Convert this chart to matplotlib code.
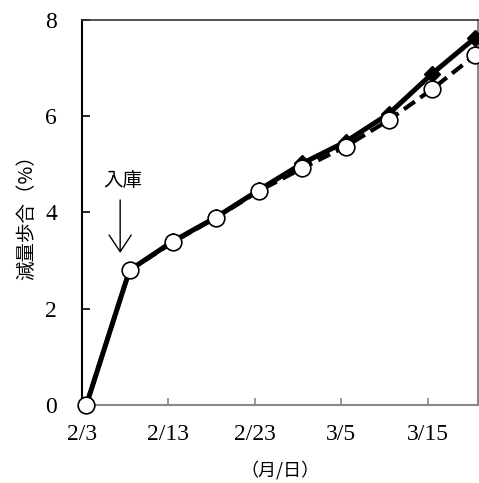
import pandas as pd
import matplotlib
matplotlib.use('Agg')
import matplotlib.pyplot as plt

# data
dates = ['2/3', '2/8', '2/13', '2/18', '2/23', '2/28', '3/5', '3/10', '3/15', '3/20']
loss_solid = [0, 2.80, 3.40, 3.90, 4.47, 5.02, 5.47, 6.05, 6.88, 7.63]
loss_dashed = [0, 2.80, 3.38, 3.89, 4.45, 4.92, 5.37, 5.92, 6.56, 7.27]
tick_dates = ['2/3', '2/13', '2/23', '3/5', '3/15']
y_ticks = [0, 2, 4, 6, 8]

YEAR = '2021'
def to_dt(s):
    return pd.to_datetime(YEAR + '/' + s, format='%Y/%m/%d')

# points sit in the middle of each day (Excel date axis)
x = [to_dt(d) + pd.Timedelta(hours=12) for d in dates]
xt = [to_dt(d) for d in tick_dates]

plt.rcParams['font.family'] = ['Liberation Serif', 'Noto Sans CJK JP']
jp = ['Noto Sans CJK JP', 'DejaVu Sans']

fig = plt.figure(figsize=(4.79, 4.83), dpi=100)
ax = fig.add_axes([0.1712, 0.1615, 0.8268, 0.7971])

ax.plot(x, loss_solid, color='black', lw=3.6, marker='D', ms=8,
        mfc='black', mec='black', clip_on=False, zorder=3)
ax.plot(x, loss_dashed, color='black', lw=3.0, ls=(0, (3.2, 1.6)), marker='o', ms=12,
        mfc='white', mec='black', mew=1.2, clip_on=False, zorder=4)

ax.set_xlim(to_dt('2/3'), to_dt('3/21') - pd.Timedelta(hours=4))
ax.set_ylim(0, 8)
ax.set_xticks(xt)
ax.set_xticklabels(tick_dates)
ax.set_yticks(y_ticks)

ax.tick_params(axis='y', direction='in', length=6, width=1.2, color='black',
               labelsize=17, pad=18)
ax.tick_params(axis='x', direction='in', length=5, width=1.2, color='#888888',
               labelsize=17, pad=14)

ax.spines['left'].set_color('black')
ax.spines['left'].set_linewidth(1.5)
ax.spines['top'].set_color('#333333')
ax.spines['top'].set_linewidth(1.2)
for s in ['right', 'bottom']:
    ax.spines[s].set_color('#888888')
    ax.spines[s].set_linewidth(1.5)

ax.set_ylabel('減量歩合（%）', family=jp, fontsize=14, labelpad=6)
ax.set_xlabel('（月/日）', family=jp, fontsize=13, labelpad=11)

# arrival annotation
arrow_x = to_dt('2/7') + pd.Timedelta(hours=10)
ax.annotate('', xy=(arrow_x, 3.16), xytext=(arrow_x, 4.26),
            arrowprops=dict(arrowstyle='->,head_length=0.6,head_width=0.4',
                            lw=1.0, color='black', mutation_scale=20,
                            shrinkA=0, shrinkB=0))
ax.text(to_dt('2/7') + pd.Timedelta(hours=16), 4.66, '入庫', family=jp,
        fontsize=14, ha='center', va='center')

fig.savefig('out.png', dpi=100)
